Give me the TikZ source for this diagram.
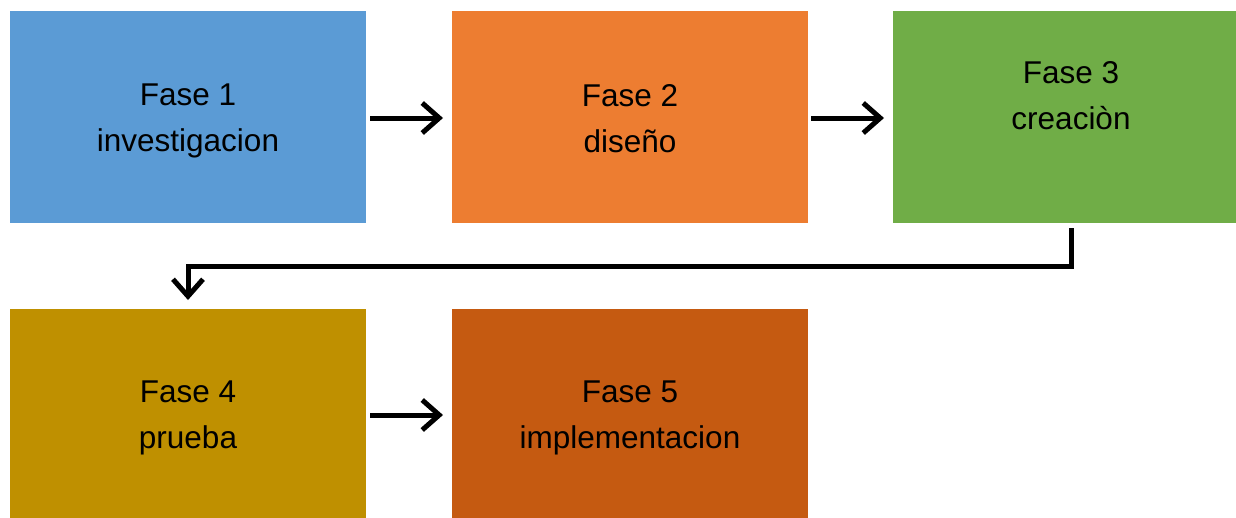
\documentclass[tikz,border=0pt]{standalone}
\usepackage{fontspec}
\setmainfont{Liberation Sans}
\usetikzlibrary{arrows.meta}
\definecolor{cblue}{HTML}{5B9BD5}
\definecolor{corange}{HTML}{ED7D31}
\definecolor{cgreen}{HTML}{70AD47}
\definecolor{cgold}{HTML}{BF9000}
\definecolor{crust}{HTML}{C55A11}
\tikzset{
  phase/.style={minimum width=356pt, minimum height=212pt, inner sep=0pt, outer sep=0pt, draw=none},
  lbl/.style={align=center, font=\fontsize{31.5}{46}\selectfont, text=black, inner sep=0pt, text depth=0pt},
  conn/.style={line width=5pt, draw=black, -{Straight Barb[length=17pt, width=30pt, line width=5pt]}},
}
\begin{document}
\begin{tikzpicture}[x=1pt,y=-1pt]
\useasboundingbox (0,0) rectangle (1236,517);
\clip (0,0) rectangle (1236,517);
\node[phase, fill=cblue] (box1) at (188,117) {};
\node[phase, fill=corange] (box2) at (630,117) {};
\node[phase, fill=cgreen] (box3) at (1071,117) {};
\node[phase, fill=cgold, minimum height=214pt] (box4) at (188,416) {};
\node[phase, fill=crust, minimum height=214pt] (box5) at (630,416) {};
\node[lbl] (t1) at (188,118) {Fase 1\\investigacion};
\node[lbl] (t2) at (630,118) {Fase 2\\diseño};
\node[lbl] (t3) at (1071,95) {Fase 3\\creaciòn};
\node[lbl] (t4) at (188,415) {Fase 4\\prueba};
\node[lbl] (t5) at (630,415) {Fase 5\\implementacion};
\coordinate (turn) at (0,266);
\draw[conn, shorten <=4pt, shorten >=9pt] (box1.east |- 0,118) -- (box2.west |- 0,118);
\draw[conn, shorten <=3pt, shorten >=9pt] (box2.east |- 0,118) -- (box3.west |- 0,118);
\draw[conn, shorten <=4pt, shorten >=9pt] (box4.east |- 0,415) -- (box5.west |- 0,415);
\draw[conn, shorten <=5pt, shorten >=9pt] (box3.south) -- (box3.south |- turn) -- (box4.north |- turn) -- (box4.north);
\end{tikzpicture}
\end{document}
